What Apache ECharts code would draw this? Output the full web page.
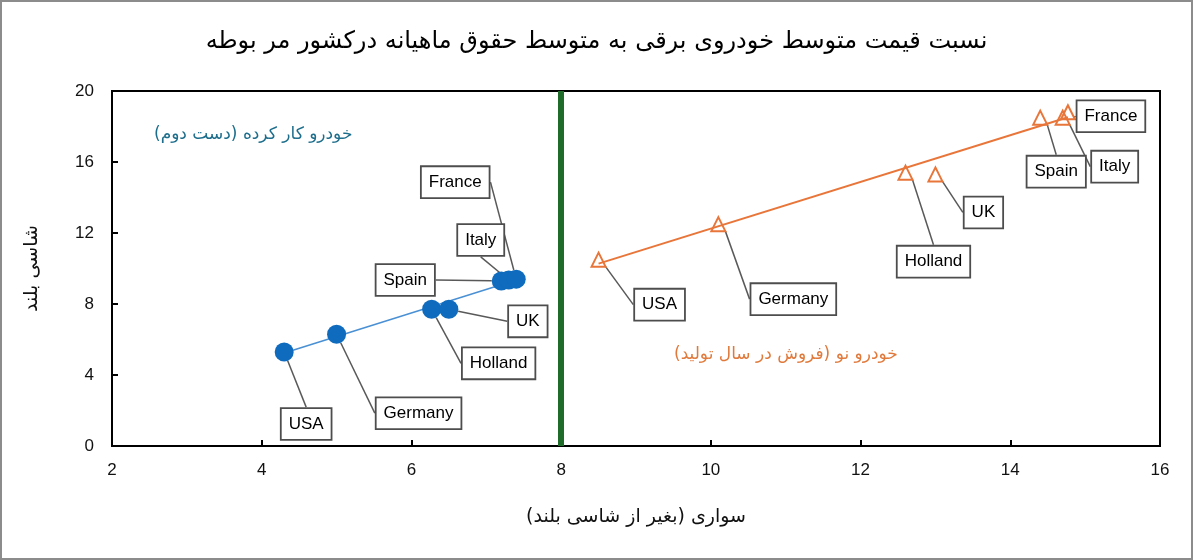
<!DOCTYPE html>
<html>
<head>
<meta charset="utf-8">
<script src="https://cdn.jsdelivr.net/npm/echarts@6/dist/echarts.min.js"></script>
<style>
  html, body { margin: 0; padding: 0; background: #fff; }
  #chart { width: 1193px; height: 560px; }
</style>
</head>
<body>
<div id="chart"></div>
<script>
// countries, same order in both groups
var countries = ['USA', 'Germany', 'Holland', 'UK', 'Spain', 'Italy', 'France'];

// used cars (second hand): x = sedan, y = SUV
var usedX = [4.3, 5.0, 6.27, 6.5, 7.2, 7.3, 7.4];
var usedY = [5.3, 6.3, 7.7, 7.7, 9.3, 9.35, 9.4];

// new cars (sold in year of production)
var newX = [8.5, 10.1, 12.6, 13.0, 14.4, 14.7, 14.77];
var newY = [10.5, 12.5, 15.4, 15.3, 18.5, 18.5, 18.8];

var xTicks = [2, 4, 6, 8, 10, 12, 14, 16];
var yTicks = [0, 4, 8, 12, 16, 20];
var divideX = 8;

// label box offsets in px (layout only)
var usedLabelShift = [[22, 72], [82, 79], [67, 54], [79, 12], [-96, -1], [-28, -40], [-61, -97]];
var newLabelShift = [[61, 45], [75, 75], [28, 89], [48, 38], [16, 54], [52, 49], [43, 4]];

function pairs(xs, ys) {
    return xs.map(function(x, i) { return [x, ys[i]]; });
}

// least squares trendline, like excel does
function trend(xs, ys) {
    var n = xs.length, sx = 0, sy = 0, sxx = 0, sxy = 0;
    for (var i = 0; i < n; i++) {
        sx += xs[i]; sy += ys[i]; sxx += xs[i] * xs[i]; sxy += xs[i] * ys[i];
    }
    var b = (n * sxy - sx * sy) / (n * sxx - sx * sx);
    var a = (sy - b * sx) / n;
    var x0 = Math.min.apply(null, xs), x1 = Math.max.apply(null, xs);
    return [[x0, a + b * x0], [x1, a + b * x1]];
}

var labelBox = {
    show: true,
    position: 'inside',
    formatter: function(p) { return countries[p.dataIndex]; },
    color: '#000',
    fontFamily: 'Liberation Sans',
    fontSize: 17,
    backgroundColor: '#fff',
    borderColor: '#4d4d4d',
    borderWidth: 1.8,
    padding: [7, 7, 6, 7]
};
var leader = { show: true, lineStyle: { color: '#595959', width: 1.5 } };

var chart = echarts.init(document.getElementById('chart'));
chart.setOption({
    animation: false,
    title: {
        text: 'نسبت قیمت متوسط خودروی برقی به متوسط حقوق ماهیانه درکشور مر بوطه',
        left: 'center',
        top: 25,
        textStyle: { fontFamily: 'DejaVu Sans', fontWeight: 'normal', fontSize: 24, color: '#000' }
    },
    grid: { left: 112, right: 33, top: 91, bottom: 114 },
    xAxis: {
        type: 'value',
        min: xTicks[0],
        max: xTicks[xTicks.length - 1],
        interval: 2,
        name: 'سواری (بغیر از شاسی بلند)',
        nameLocation: 'middle',
        nameGap: 62,
        nameTextStyle: { fontFamily: 'DejaVu Sans', fontSize: 19, color: '#111' },
        axisLine: { lineStyle: { color: '#000', width: 2 } },
        axisTick: { inside: true, length: 6, lineStyle: { color: '#000', width: 2 } },
        axisLabel: { margin: 16, fontFamily: 'Liberation Sans', fontSize: 17, color: '#111' },
        splitLine: { show: false }
    },
    yAxis: {
        type: 'value',
        min: yTicks[0],
        max: yTicks[yTicks.length - 1],
        interval: 4,
        name: 'شاسی بلند',
        nameLocation: 'middle',
        nameGap: 70,
        nameTextStyle: { fontFamily: 'DejaVu Sans', fontSize: 19, color: '#111' },
        axisLine: { show: true, lineStyle: { color: '#000', width: 2 } },
        axisTick: { show: true, inside: true, length: 6, lineStyle: { color: '#000', width: 2 } },
        axisLabel: { margin: 18, fontFamily: 'Liberation Sans', fontSize: 17, color: '#111' },
        splitLine: { show: false }
    },
    graphic: [
        // outer frame of the chart
        { type: 'rect', shape: { x: 1, y: 1, width: 1191, height: 558 }, style: { fill: 'none', stroke: '#8c8c8c', lineWidth: 2 }, z: 0 },
        // close the plot box on top and right
        { type: 'rect', shape: { x: 112, y: 91, width: 1048, height: 355 }, style: { fill: 'none', stroke: '#000', lineWidth: 2 }, z: 0 },
        { type: 'text', left: 154, top: 126, style: { text: 'خودرو کار کرده (دست دوم)', fill: '#1d6e8c', font: '17px "DejaVu Sans"' } },
        { type: 'text', left: 674, top: 346, style: { text: 'خودرو نو (فروش در سال تولید)', fill: '#e07a3c', font: '17px "DejaVu Sans"' } }
    ],
    series: [
        {
            name: 'used trend',
            type: 'line',
            data: trend(usedX, usedY),
            symbol: 'none',
            lineStyle: { color: '#4a90d4', width: 1.5 },
            z: 1
        },
        {
            name: 'new trend',
            type: 'line',
            data: trend(newX, newY),
            symbol: 'none',
            lineStyle: { color: '#e8763a', width: 2 },
            z: 1
        },
        {
            name: 'used',
            type: 'scatter',
            data: pairs(usedX, usedY),
            symbol: 'circle',
            symbolSize: 19,
            itemStyle: { color: '#0f6bbd', opacity: 1 },
            label: labelBox,
            labelLine: leader,
            labelLayout: function(p) {
                var s = usedLabelShift[p.dataIndex];
                return { dx: s[0], dy: s[1] };
            },
            z: 3
        },
        {
            name: 'new',
            type: 'scatter',
            data: pairs(newX, newY),
            symbol: 'triangle',
            symbolSize: [14, 14],
            itemStyle: { color: 'rgba(0,0,0,0)', borderColor: '#e8763a', borderWidth: 2, opacity: 1 },
            label: labelBox,
            labelLine: leader,
            labelLayout: function(p) {
                var s = newLabelShift[p.dataIndex];
                return { dx: s[0], dy: s[1] };
            },
            z: 3
        },
        {
            name: 'divide',
            type: 'line',
            data: [],
            markLine: {
                silent: true,
                symbol: 'none',
                label: { show: false },
                lineStyle: { color: '#1f6b2a', width: 6, type: 'solid' },
                data: [{ xAxis: divideX }]
            },
            z: 2
        }
    ]
});
</script>
</body>
</html>
